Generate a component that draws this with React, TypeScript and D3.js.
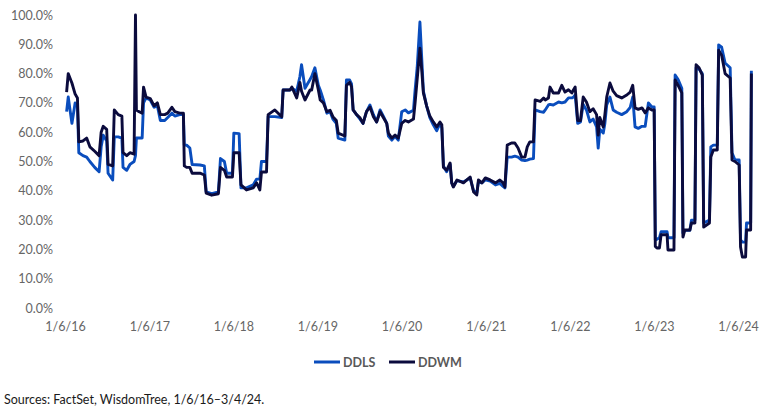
import { useRef, useEffect } from "react";
import * as d3 from "d3";

const dates = [
  "2016-01-13", "2016-01-20", "2016-02-05", "2016-02-19", "2016-02-29", "2016-03-06", "2016-03-24", "2016-04-09",
  "2016-04-23", "2016-05-14", "2016-06-02", "2016-06-11", "2016-06-20", "2016-07-05", "2016-07-11", "2016-07-31",
  "2016-08-07", "2016-08-24", "2016-09-09", "2016-09-14", "2016-09-30", "2016-10-14", "2016-11-01", "2016-11-07",
  "2016-11-11", "2016-11-23", "2016-12-06", "2016-12-12", "2016-12-23", "2017-01-10", "2017-01-27", "2017-02-10",
  "2017-02-23", "2017-03-14", "2017-03-27", "2017-04-14", "2017-04-27", "2017-05-18", "2017-06-03", "2017-06-07",
  "2017-06-17", "2017-07-01", "2017-07-11", "2017-08-14", "2017-09-02", "2017-09-10", "2017-10-04", "2017-11-02",
  "2017-11-11", "2017-11-28", "2017-12-08", "2018-01-02", "2018-01-08", "2018-01-31", "2018-02-08", "2018-03-04",
  "2018-04-02", "2018-04-17", "2018-05-01", "2018-05-08", "2018-05-30", "2018-06-06", "2018-07-05", "2018-08-04",
  "2018-08-10", "2018-09-09", "2018-09-17", "2018-10-08", "2018-10-22", "2018-10-29", "2018-11-13", "2018-12-05",
  "2018-12-12", "2018-12-26", "2019-01-10", "2019-01-18", "2019-02-01", "2019-02-16", "2019-03-02", "2019-03-14",
  "2019-03-29", "2019-04-06", "2019-05-05", "2019-05-12", "2019-05-26", "2019-06-03", "2019-06-10", "2019-06-25",
  "2019-07-09", "2019-07-23", "2019-08-07", "2019-08-22", "2019-09-06", "2019-09-20", "2019-10-05", "2019-10-19",
  "2019-11-03", "2019-11-10", "2019-11-25", "2019-12-09", "2019-12-23", "2020-01-07", "2020-01-22", "2020-02-05",
  "2020-02-27", "2020-03-05", "2020-03-14", "2020-03-26", "2020-04-03", "2020-04-10", "2020-04-24", "2020-05-08",
  "2020-05-23", "2020-06-07", "2020-06-21", "2020-06-29", "2020-07-06", "2020-07-20", "2020-08-04", "2020-08-11",
  "2020-08-18", "2020-09-03", "2020-10-01", "2020-10-30", "2020-11-14", "2020-11-28", "2020-12-05", "2020-12-20",
  "2021-01-04", "2021-01-25", "2021-02-17", "2021-03-08", "2021-03-22", "2021-03-30", "2021-04-09", "2021-04-28",
  "2021-05-12", "2021-05-26", "2021-06-11", "2021-06-25", "2021-07-05", "2021-07-16", "2021-08-01", "2021-08-08",
  "2021-08-30", "2021-09-14", "2021-09-21", "2021-10-05", "2021-10-12", "2021-10-26", "2021-11-18", "2021-12-02",
  "2021-12-16", "2021-12-31", "2022-01-15", "2022-01-22", "2022-01-29", "2022-02-09", "2022-02-21", "2022-03-05",
  "2022-03-19", "2022-04-03", "2022-04-17", "2022-05-02", "2022-05-09", "2022-05-16", "2022-05-31", "2022-06-07",
  "2022-06-15", "2022-06-29", "2022-07-13", "2022-07-28", "2022-08-19", "2022-09-10", "2022-09-25", "2022-10-06",
  "2022-10-16", "2022-10-30", "2022-11-15", "2022-11-29", "2022-12-13", "2022-12-28", "2023-01-07", "2023-01-12",
  "2023-01-19", "2023-01-30", "2023-02-06", "2023-03-04", "2023-03-08", "2023-04-03", "2023-04-08", "2023-04-21",
  "2023-05-07", "2023-05-12", "2023-05-20", "2023-06-11", "2023-06-18", "2023-07-03", "2023-07-08", "2023-07-21",
  "2023-08-04", "2023-08-10", "2023-09-04", "2023-09-10", "2023-09-21", "2023-10-08", "2023-10-14", "2023-10-27",
  "2023-11-11", "2023-12-03", "2023-12-11", "2023-12-24", "2024-01-11", "2024-01-17", "2024-01-25", "2024-02-08",
  "2024-02-12", "2024-03-01", "2024-03-04",
];

const ddls = [
  67, 72, 63, 70, 69, 53, 52, 51.5, 50, 48, 46.5, 55, 59, 57, 46, 43.7,
  58.4, 58.4, 58, 48, 47, 49, 50, 52, 58, 58, 58, 70, 71.7, 71, 68.5, 69,
  64, 64, 65, 66.5, 65.5, 66, 66, 55.6, 55.6, 54.6, 49, 48.8, 48.5, 39.6, 39, 39.6,
  51, 50, 46, 46, 59.7, 59.5, 41, 41, 42, 44, 44, 50, 50, 65.3, 65.3, 65,
  74.4, 74.4, 75, 74, 79, 83, 75, 78, 79, 82, 76, 74.4, 71, 66.5, 67, 64.5,
  63, 58, 57.3, 77.8, 77.8, 76.5, 67.6, 66, 64.5, 63, 67, 69.3, 66, 63.5, 67.6, 65.5,
  63, 58.7, 57.3, 58.5, 57.3, 67, 67.6, 66.6, 67.5, 74.4, 82, 97.6, 85, 74, 69, 65,
  62.5, 60.5, 63, 61.5, 48.5, 46.5, 49, 42.7, 41.5, 43.5, 43, 44.4, 40, 39.3, 43, 42.7,
  43.7, 43.3, 42, 42.5, 41.5, 41, 51.5, 51.5, 51.8, 51.5, 50.5, 50.3, 50.5, 50.8, 51, 67.6,
  67, 66.8, 67.6, 69.3, 69.5, 69.3, 70.3, 70, 70.3, 71.7, 71.7, 72, 72.7, 63, 63.5, 69.5,
  67.6, 63.5, 64.5, 61.8, 54.6, 61, 59.7, 63, 69.3, 72, 67.6, 66.8, 66, 67, 68.5, 72,
  61.8, 61.3, 62, 62, 70, 68.6, 68.6, 23.2, 23.5, 24, 26, 26, 24, 24, 79.5, 78,
  75, 25.6, 26.5, 26.5, 30, 30, 82, 81.5, 80, 29, 30, 55, 55.6, 55.6, 89.8, 89,
  83.6, 82, 53, 50.5, 50.5, 23.2, 22.5, 22.5, 29, 29, 81,
];

const ddwm = [
  73.7, 80, 76.8, 73, 71.7, 56.7, 57, 58, 55, 53.5, 52, 60, 62, 61, 49, 48.5,
  67.6, 66, 65.5, 53, 52, 53, 52.5, 100, 67.6, 67, 66.5, 75.4, 72, 71.5, 69, 70,
  66, 66, 66.5, 68.5, 67, 66.5, 66.5, 48.5, 48, 48, 46, 46, 45.4, 39.2, 38.5, 39,
  48, 47, 44.7, 44.7, 53, 53, 42, 40.3, 41, 42.7, 40.3, 46.4, 46.4, 66, 67.6, 65.3,
  74.4, 74.4, 75.4, 71.7, 77, 74, 71, 74.4, 74.4, 80, 74.4, 71, 70, 67, 67.5, 65.3,
  64, 59.7, 58.7, 76, 77, 75.5, 67.6, 66, 65, 63, 67, 68.6, 65.3, 63.5, 67, 65,
  63, 59.7, 58, 59, 58, 63, 64, 63.5, 64.5, 70, 78, 88.7, 81, 73.4, 69, 65.5,
  63.5, 61.8, 63.5, 62.5, 48, 47, 49.5, 42.7, 41.3, 43.7, 42.7, 44.7, 39.6, 38.6, 43.7, 42.7,
  44.4, 43.7, 42.7, 43.7, 42.7, 41.3, 55.6, 56.3, 56.3, 54.6, 51.5, 51.5, 55, 56.7, 56.7, 71,
  70.5, 71.7, 71, 71.7, 75.4, 73.4, 73.4, 76, 73.7, 74.5, 73.4, 74.5, 75.4, 64, 64, 72,
  70.3, 67, 68, 66, 59, 65, 61.8, 66, 72, 76.8, 74, 72.5, 71.7, 72.7, 73.7, 76,
  68.3, 67.8, 68.3, 66.6, 68.3, 67.6, 67.6, 21, 20.5, 20.5, 25, 25, 19.8, 19.8, 77.8, 76,
  73.4, 24.2, 26.6, 26.6, 29, 29, 83, 82, 79.5, 27.6, 29, 51.5, 53.9, 53.9, 88, 86.3,
  80, 78.5, 50.5, 50, 48.8, 20.8, 17.4, 17.4, 26.6, 26.6, 80,
];

const yTicks = [0, 10, 20, 30, 40, 50, 60, 70, 80, 90, 100];
const xTickDates = ["2016-01-06", "2017-01-06", "2018-01-06", "2019-01-06", "2020-01-06", "2021-01-06", "2022-01-06", "2023-01-06", "2024-01-06"];

const seriesNames = ["DDLS", "DDWM"];
const seriesColors = ["#0a4dbd", "#0b0b3d"];
const sourceNote = "Sources: FactSet, WisdomTree, 1/6/16\u20133/4/24.";

const W = 768;
const H = 418;
const FONT = "Lato, 'Open Sans', sans-serif";

export default function App() {
  const svgRef = useRef<SVGSVGElement | null>(null);

  useEffect(() => {
    document.body.style.margin = "0";
    if (!svgRef.current) return;
    const svg = d3.select(svgRef.current);
    svg.selectAll("*").remove();

    const parse = d3.utcParse("%Y-%m-%d");
    const xs = dates.map(d => parse(d)!);
    const ticks = xTickDates.map(d => parse(d)!);

    const x = d3.scaleUtc().domain([ticks[0], ticks[ticks.length - 1]]).range([65, 738]);
    const y = d3.scaleLinear().domain([0, 100]).range([308, 15]);

    // y axis labels only
    svg.append("g")
      .attr("transform", "translate(53,0)")
      .call(d3.axisLeft(y).tickValues(yTicks).tickSize(0).tickPadding(0).tickFormat(d => `${(+d).toFixed(1)}%`))
      .call(g => g.select(".domain").remove())
      .call(g => g.selectAll("text")
        .attr("fill", "#666")
        .style("font-family", FONT)
        .style("font-size", "12.5px"));

    // x axis labels only
    svg.append("g")
      .attr("transform", "translate(0,318)")
      .call(d3.axisBottom(x).tickValues(ticks).tickSize(0).tickPadding(4).tickFormat(d => d3.utcFormat("%-m/%-d/%y")(d as Date)))
      .call(g => g.select(".domain").remove())
      .call(g => g.selectAll("text")
        .attr("fill", "#666")
        .style("font-family", FONT)
        .style("font-size", "12.5px"));

    const series = [ddls, ddwm];
    const line = d3.line<number>()
      .x((_, i) => x(xs[i]))
      .y(v => y(v));

    // DDLS first so DDWM sits on top
    series.forEach((vals, s) => {
      svg.append("path")
        .datum(vals)
        .attr("fill", "none")
        .attr("stroke", seriesColors[s])
        .attr("stroke-width", 2.9)
        .attr("stroke-linejoin", "round")
        .attr("d", line);
    });

    // legend
    const legend = svg.append("g").attr("transform", "translate(314,362)");
    const offsets = [0, 75];
    seriesNames.forEach((name, i) => {
      const g = legend.append("g").attr("transform", `translate(${offsets[i]},0)`);
      g.append("line").attr("x1", 0).attr("x2", 26).attr("y1", 0).attr("y2", 0)
        .attr("stroke", seriesColors[i]).attr("stroke-width", 3);
      g.append("text").attr("x", 29).attr("y", 4.5)
        .attr("fill", "#595959")
        .style("font-family", FONT)
        .style("font-weight", "bold")
        .style("font-size", "12.5px")
        .text(name);
    });

    svg.append("text")
      .attr("x", 4).attr("y", 404)
      .attr("fill", "#1a1a1a")
      .style("font-family", FONT)
      .style("font-size", "12.5px")
      .text(sourceNote);
  }, []);

  return <svg ref={svgRef} width={W} height={H} style={{ display: "block", background: "#fff" }} />;
}
